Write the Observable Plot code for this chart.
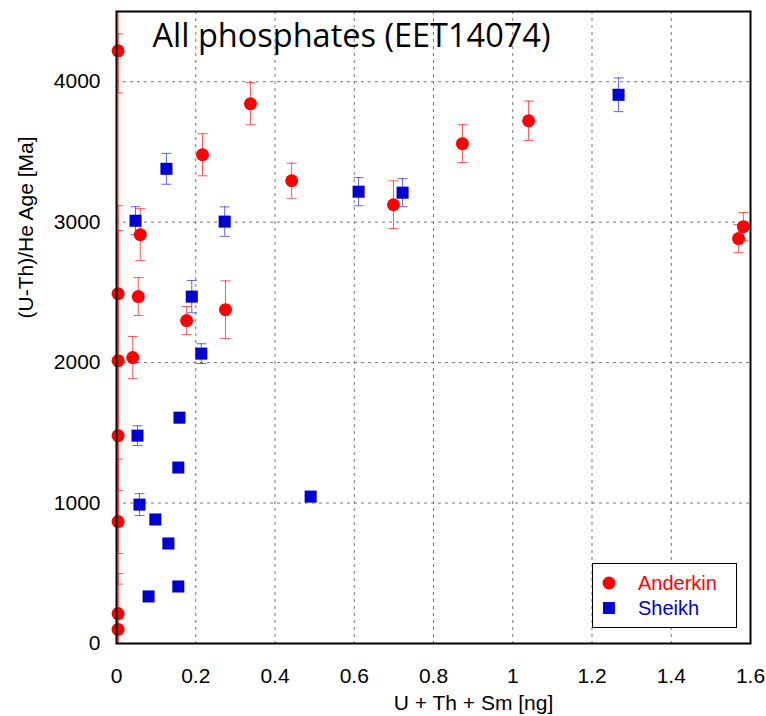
<!DOCTYPE html>
<html>
<head>
<meta charset="utf-8">
<script src="https://cdn.jsdelivr.net/npm/d3@7"></script>
<script src="https://cdn.jsdelivr.net/npm/@observablehq/plot@0.6"></script>
<style>
  html, body { margin: 0; padding: 0; background: #fff; }
  #wrap { position: relative; width: 766px; height: 716px; }
  #legend { position: absolute; left: 592px; top: 563px; width: 143px; height: 63px;
    border: 1.5px solid #000; background: #fff; font-family: "Liberation Sans", Arial, sans-serif; font-size: 20px; }
  .item { position: absolute; left: 0; height: 24px; width: 143px; }
  .item svg { position: absolute; left: 8px; top: 4px; }
  .item span { position: absolute; left: 45px; top: 0px; line-height: 24px; }
</style>
</head>
<body>
<div id="wrap"></div>
<script>
// ---- data ----
const title = "All phosphates (EET14074)";
const xLabel = "U + Th + Sm [ng]";
const yLabel = "(U-Th)/He Age [Ma]";
const seriesNames = ["Anderkin", "Sheikh"];
const seriesColors = ["#ff0000", "#0000d0"];

const anderkinX   = [0.004, 0.004, 0.004, 0.004, 0.004, 0.004, 0.004, 0.060, 0.055, 0.041, 0.177, 0.217, 0.275, 0.338, 0.442, 0.699, 0.873, 1.040, 1.570, 1.582];
const anderkinY   = [4220, 2491, 2014, 1480, 868, 213, 100, 2911, 2470, 2036, 2299, 3480, 2377, 3843, 3295, 3124, 3559, 3722, 2883, 2968];
const anderkinErr = [300, 1850, 926, 1637, 445, 285, 100, 185, 135, 150, 100, 150, 205, 150, 125, 170, 135, 140, 100, 100];

const sheikhX   = [0.048, 0.126, 0.273, 0.190, 0.214, 0.159, 0.053, 0.156, 0.058, 0.098, 0.131, 0.156, 0.081, 0.490, 0.611, 0.722, 1.267];
const sheikhY   = [3010, 3380, 3004, 2470, 2064, 1608, 1480, 1253, 989, 883, 712, 406, 335, 1046, 3217, 3210, 3907];
const sheikhErr = [100, 110, 105, 115, 70, 20, 70, 20, 78, 20, 20, 20, 20, 20, 100, 100, 120];

const xTicks = [0, 0.2, 0.4, 0.6, 0.8, 1, 1.2, 1.4, 1.6];
const xTickLabels = ["0", "0.2", "0.4", "0.6", "0.8", "1", "1.2", "1.4", "1.6"];
const yTicks = [0, 1000, 2000, 3000, 4000];
const yTickLabels = ["0", "1000", "2000", "3000", "4000"];
const xDomain = [0, 1.6];
const yDomain = [0, 4500];

// ---- build tables ----
const anderkin = anderkinX.map((x, i) => ({x, y: anderkinY[i], lo: anderkinY[i] - anderkinErr[i], hi: anderkinY[i] + anderkinErr[i]}));
const sheikh = sheikhX.map((x, i) => ({x, y: sheikhY[i], lo: sheikhY[i] - sheikhErr[i], hi: sheikhY[i] + sheikhErr[i]}));

const capSymbol = { draw(ctx) { ctx.moveTo(-5, 0); ctx.lineTo(5, 0); } };

const gridX = xTicks.slice(1, -1);
const gridY = yTicks.slice(1);

function errMarks(data, color) {
  return [
    Plot.ruleX(data, {x: "x", y1: "lo", y2: "hi", stroke: color, strokeWidth: 1, strokeOpacity: 0.75, clip: true}),
    Plot.dot(data, {x: "x", y: "hi", symbol: capSymbol, stroke: color, strokeWidth: 1, strokeOpacity: 0.75, fill: "none", clip: true}),
    Plot.dot(data, {x: "x", y: "lo", symbol: capSymbol, stroke: color, strokeWidth: 1, strokeOpacity: 0.75, fill: "none", clip: true})
  ];
}

const chart = Plot.plot({
  width: 766,
  height: 716,
  marginLeft: 116,
  marginRight: 16,
  marginTop: 11,
  marginBottom: 73,
  style: {fontFamily: "'Liberation Sans', Arial, sans-serif", fontSize: "21px", background: "#fff", color: "#000"},
  x: {domain: xDomain},
  y: {domain: yDomain},
  marks: [
    Plot.ruleX(gridX, {stroke: "#777", strokeWidth: 1, strokeDasharray: "3,4"}),
    Plot.ruleY(gridY, {stroke: "#777", strokeWidth: 1, strokeDasharray: "3,4"}),
    Plot.axisX({ticks: xTicks, tickFormat: d => xTickLabels[xTicks.indexOf(d)], tickSize: 0, tickPadding: 25, label: null, fontSize: 21}),
    Plot.axisY({ticks: yTicks, tickFormat: d => yTickLabels[yTicks.indexOf(d)], tickSize: 0, tickPadding: 16, label: null, fontSize: 21}),
    ...errMarks(anderkin, "#ff2020"),
    ...errMarks(sheikh, "#3030e0"),
    Plot.dot(anderkin, {x: "x", y: "y", r: 6.5, fill: seriesColors[0], stroke: "none"}),
    Plot.dot(sheikh, {x: "x", y: "y", r: 6.8, symbol: "square", fill: seriesColors[1], stroke: "none"}),
    Plot.frame({stroke: "#000", strokeWidth: 2}),
    Plot.text([title], {frameAnchor: "top-left", textAnchor: "start", lineAnchor: "bottom", dx: 36, dy: 35, fontSize: 32.5, fontFamily: "'Open Sans', 'Noto Sans', sans-serif", fill: "#000"}),
    Plot.text([xLabel], {frameAnchor: "bottom", lineAnchor: "bottom", dx: 40, dy: 66, fontSize: 21, fill: "#000"}),
    Plot.text([yLabel], {frameAnchor: "left", lineAnchor: "bottom", rotate: -90, dx: -84, dy: -9, fontSize: 21, fill: "#000"})
  ]
});

const wrap = document.getElementById("wrap");
wrap.appendChild(chart);

// legend (HTML overlay)
const legend = document.createElement("div");
legend.id = "legend";
const shapes = [
  '<svg width="16" height="16"><circle cx="8" cy="8" r="6.5" fill="' + seriesColors[0] + '"/></svg>',
  '<svg width="16" height="16"><rect x="2" y="2" width="12" height="12" fill="' + seriesColors[1] + '"/></svg>'
];
seriesNames.forEach((name, i) => {
  const item = document.createElement("div");
  item.className = "item";
  item.style.top = (7 + i * 25) + "px";
  item.innerHTML = shapes[i] + '<span style="color:' + seriesColors[i] + '">' + name + '</span>';
  legend.appendChild(item);
});
wrap.appendChild(legend);
</script>
</body>
</html>
